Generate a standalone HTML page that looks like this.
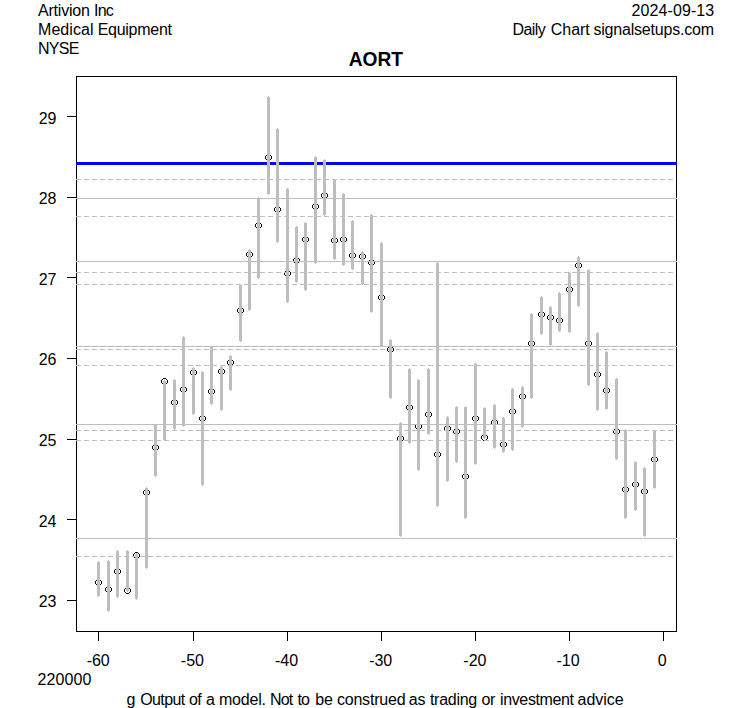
<!DOCTYPE html>
<html><head><meta charset="utf-8"><title>AORT</title>
<style>html,body{margin:0;padding:0;background:#fff}svg{display:block}text{font-family:"Liberation Sans",sans-serif;font-size:16px;fill:#000}</style>
</head><body>
<svg width="753" height="708" viewBox="0 0 753 708">
<rect width="753" height="708" fill="#fff"/>
<g fill="#000" shape-rendering="crispEdges">
<path d="M97 579h3v1h-3z m-1 1h1v1h-1z m4 0h1v1h-1z m-5 1h1v3h-1z m6 0h1v3h-1z m-5 3h1v1h-1z m4 0h1v1h-1z m-3 1h3v1h-3z"/>
<path d="M107 586h3v1h-3z m-1 1h1v1h-1z m4 0h1v1h-1z m-5 1h1v3h-1z m6 0h1v3h-1z m-5 3h1v1h-1z m4 0h1v1h-1z m-3 1h3v1h-3z"/>
<path d="M116 568h3v1h-3z m-1 1h1v1h-1z m4 0h1v1h-1z m-5 1h1v3h-1z m6 0h1v3h-1z m-5 3h1v1h-1z m4 0h1v1h-1z m-3 1h3v1h-3z"/>
<path d="M126 587h3v1h-3z m-1 1h1v1h-1z m4 0h1v1h-1z m-5 1h1v3h-1z m6 0h1v3h-1z m-5 3h1v1h-1z m4 0h1v1h-1z m-3 1h3v1h-3z"/>
<path d="M135 552h3v1h-3z m-1 1h1v1h-1z m4 0h1v1h-1z m-5 1h1v3h-1z m6 0h1v3h-1z m-5 3h1v1h-1z m4 0h1v1h-1z m-3 1h3v1h-3z"/>
<path d="M145 489h3v1h-3z m-1 1h1v1h-1z m4 0h1v1h-1z m-5 1h1v3h-1z m6 0h1v3h-1z m-5 3h1v1h-1z m4 0h1v1h-1z m-3 1h3v1h-3z"/>
<path d="M154 444h3v1h-3z m-1 1h1v1h-1z m4 0h1v1h-1z m-5 1h1v3h-1z m6 0h1v3h-1z m-5 3h1v1h-1z m4 0h1v1h-1z m-3 1h3v1h-3z"/>
<path d="M163 378h3v1h-3z m-1 1h1v1h-1z m4 0h1v1h-1z m-5 1h1v3h-1z m6 0h1v3h-1z m-5 3h1v1h-1z m4 0h1v1h-1z m-3 1h3v1h-3z"/>
<path d="M173 399h3v1h-3z m-1 1h1v1h-1z m4 0h1v1h-1z m-5 1h1v3h-1z m6 0h1v3h-1z m-5 3h1v1h-1z m4 0h1v1h-1z m-3 1h3v1h-3z"/>
<path d="M182 386h3v1h-3z m-1 1h1v1h-1z m4 0h1v1h-1z m-5 1h1v3h-1z m6 0h1v3h-1z m-5 3h1v1h-1z m4 0h1v1h-1z m-3 1h3v1h-3z"/>
<path d="M192 369h3v1h-3z m-1 1h1v1h-1z m4 0h1v1h-1z m-5 1h1v3h-1z m6 0h1v3h-1z m-5 3h1v1h-1z m4 0h1v1h-1z m-3 1h3v1h-3z"/>
<path d="M201 415h3v1h-3z m-1 1h1v1h-1z m4 0h1v1h-1z m-5 1h1v3h-1z m6 0h1v3h-1z m-5 3h1v1h-1z m4 0h1v1h-1z m-3 1h3v1h-3z"/>
<path d="M210 388h3v1h-3z m-1 1h1v1h-1z m4 0h1v1h-1z m-5 1h1v3h-1z m6 0h1v3h-1z m-5 3h1v1h-1z m4 0h1v1h-1z m-3 1h3v1h-3z"/>
<path d="M220 368h3v1h-3z m-1 1h1v1h-1z m4 0h1v1h-1z m-5 1h1v3h-1z m6 0h1v3h-1z m-5 3h1v1h-1z m4 0h1v1h-1z m-3 1h3v1h-3z"/>
<path d="M229 359h3v1h-3z m-1 1h1v1h-1z m4 0h1v1h-1z m-5 1h1v3h-1z m6 0h1v3h-1z m-5 3h1v1h-1z m4 0h1v1h-1z m-3 1h3v1h-3z"/>
<path d="M239 307h3v1h-3z m-1 1h1v1h-1z m4 0h1v1h-1z m-5 1h1v3h-1z m6 0h1v3h-1z m-5 3h1v1h-1z m4 0h1v1h-1z m-3 1h3v1h-3z"/>
<path d="M248 251h3v1h-3z m-1 1h1v1h-1z m4 0h1v1h-1z m-5 1h1v3h-1z m6 0h1v3h-1z m-5 3h1v1h-1z m4 0h1v1h-1z m-3 1h3v1h-3z"/>
<path d="M257 222h3v1h-3z m-1 1h1v1h-1z m4 0h1v1h-1z m-5 1h1v3h-1z m6 0h1v3h-1z m-5 3h1v1h-1z m4 0h1v1h-1z m-3 1h3v1h-3z"/>
<path d="M267 154h3v1h-3z m-1 1h1v1h-1z m4 0h1v1h-1z m-5 1h1v3h-1z m6 0h1v3h-1z m-5 3h1v1h-1z m4 0h1v1h-1z m-3 1h3v1h-3z"/>
<path d="M276 206h3v1h-3z m-1 1h1v1h-1z m4 0h1v1h-1z m-5 1h1v3h-1z m6 0h1v3h-1z m-5 3h1v1h-1z m4 0h1v1h-1z m-3 1h3v1h-3z"/>
<path d="M286 270h3v1h-3z m-1 1h1v1h-1z m4 0h1v1h-1z m-5 1h1v3h-1z m6 0h1v3h-1z m-5 3h1v1h-1z m4 0h1v1h-1z m-3 1h3v1h-3z"/>
<path d="M295 257h3v1h-3z m-1 1h1v1h-1z m4 0h1v1h-1z m-5 1h1v3h-1z m6 0h1v3h-1z m-5 3h1v1h-1z m4 0h1v1h-1z m-3 1h3v1h-3z"/>
<path d="M304 236h3v1h-3z m-1 1h1v1h-1z m4 0h1v1h-1z m-5 1h1v3h-1z m6 0h1v3h-1z m-5 3h1v1h-1z m4 0h1v1h-1z m-3 1h3v1h-3z"/>
<path d="M314 203h3v1h-3z m-1 1h1v1h-1z m4 0h1v1h-1z m-5 1h1v3h-1z m6 0h1v3h-1z m-5 3h1v1h-1z m4 0h1v1h-1z m-3 1h3v1h-3z"/>
<path d="M323 192h3v1h-3z m-1 1h1v1h-1z m4 0h1v1h-1z m-5 1h1v3h-1z m6 0h1v3h-1z m-5 3h1v1h-1z m4 0h1v1h-1z m-3 1h3v1h-3z"/>
<path d="M333 237h3v1h-3z m-1 1h1v1h-1z m4 0h1v1h-1z m-5 1h1v3h-1z m6 0h1v3h-1z m-5 3h1v1h-1z m4 0h1v1h-1z m-3 1h3v1h-3z"/>
<path d="M342 236h3v1h-3z m-1 1h1v1h-1z m4 0h1v1h-1z m-5 1h1v3h-1z m6 0h1v3h-1z m-5 3h1v1h-1z m4 0h1v1h-1z m-3 1h3v1h-3z"/>
<path d="M351 252h3v1h-3z m-1 1h1v1h-1z m4 0h1v1h-1z m-5 1h1v3h-1z m6 0h1v3h-1z m-5 3h1v1h-1z m4 0h1v1h-1z m-3 1h3v1h-3z"/>
<path d="M361 253h3v1h-3z m-1 1h1v1h-1z m4 0h1v1h-1z m-5 1h1v3h-1z m6 0h1v3h-1z m-5 3h1v1h-1z m4 0h1v1h-1z m-3 1h3v1h-3z"/>
<path d="M370 259h3v1h-3z m-1 1h1v1h-1z m4 0h1v1h-1z m-5 1h1v3h-1z m6 0h1v3h-1z m-5 3h1v1h-1z m4 0h1v1h-1z m-3 1h3v1h-3z"/>
<path d="M380 294h3v1h-3z m-1 1h1v1h-1z m4 0h1v1h-1z m-5 1h1v3h-1z m6 0h1v3h-1z m-5 3h1v1h-1z m4 0h1v1h-1z m-3 1h3v1h-3z"/>
<path d="M389 346h3v1h-3z m-1 1h1v1h-1z m4 0h1v1h-1z m-5 1h1v3h-1z m6 0h1v3h-1z m-5 3h1v1h-1z m4 0h1v1h-1z m-3 1h3v1h-3z"/>
<path d="M399 435h3v1h-3z m-1 1h1v1h-1z m4 0h1v1h-1z m-5 1h1v3h-1z m6 0h1v3h-1z m-5 3h1v1h-1z m4 0h1v1h-1z m-3 1h3v1h-3z"/>
<path d="M408 404h3v1h-3z m-1 1h1v1h-1z m4 0h1v1h-1z m-5 1h1v3h-1z m6 0h1v3h-1z m-5 3h1v1h-1z m4 0h1v1h-1z m-3 1h3v1h-3z"/>
<path d="M417 423h3v1h-3z m-1 1h1v1h-1z m4 0h1v1h-1z m-5 1h1v3h-1z m6 0h1v3h-1z m-5 3h1v1h-1z m4 0h1v1h-1z m-3 1h3v1h-3z"/>
<path d="M427 411h3v1h-3z m-1 1h1v1h-1z m4 0h1v1h-1z m-5 1h1v3h-1z m6 0h1v3h-1z m-5 3h1v1h-1z m4 0h1v1h-1z m-3 1h3v1h-3z"/>
<path d="M436 451h3v1h-3z m-1 1h1v1h-1z m4 0h1v1h-1z m-5 1h1v3h-1z m6 0h1v3h-1z m-5 3h1v1h-1z m4 0h1v1h-1z m-3 1h3v1h-3z"/>
<path d="M446 425h3v1h-3z m-1 1h1v1h-1z m4 0h1v1h-1z m-5 1h1v3h-1z m6 0h1v3h-1z m-5 3h1v1h-1z m4 0h1v1h-1z m-3 1h3v1h-3z"/>
<path d="M455 428h3v1h-3z m-1 1h1v1h-1z m4 0h1v1h-1z m-5 1h1v3h-1z m6 0h1v3h-1z m-5 3h1v1h-1z m4 0h1v1h-1z m-3 1h3v1h-3z"/>
<path d="M464 473h3v1h-3z m-1 1h1v1h-1z m4 0h1v1h-1z m-5 1h1v3h-1z m6 0h1v3h-1z m-5 3h1v1h-1z m4 0h1v1h-1z m-3 1h3v1h-3z"/>
<path d="M474 415h3v1h-3z m-1 1h1v1h-1z m4 0h1v1h-1z m-5 1h1v3h-1z m6 0h1v3h-1z m-5 3h1v1h-1z m4 0h1v1h-1z m-3 1h3v1h-3z"/>
<path d="M483 434h3v1h-3z m-1 1h1v1h-1z m4 0h1v1h-1z m-5 1h1v3h-1z m6 0h1v3h-1z m-5 3h1v1h-1z m4 0h1v1h-1z m-3 1h3v1h-3z"/>
<path d="M493 419h3v1h-3z m-1 1h1v1h-1z m4 0h1v1h-1z m-5 1h1v3h-1z m6 0h1v3h-1z m-5 3h1v1h-1z m4 0h1v1h-1z m-3 1h3v1h-3z"/>
<path d="M502 441h3v1h-3z m-1 1h1v1h-1z m4 0h1v1h-1z m-5 1h1v3h-1z m6 0h1v3h-1z m-5 3h1v1h-1z m4 0h1v1h-1z m-3 1h3v1h-3z"/>
<path d="M511 408h3v1h-3z m-1 1h1v1h-1z m4 0h1v1h-1z m-5 1h1v3h-1z m6 0h1v3h-1z m-5 3h1v1h-1z m4 0h1v1h-1z m-3 1h3v1h-3z"/>
<path d="M521 393h3v1h-3z m-1 1h1v1h-1z m4 0h1v1h-1z m-5 1h1v3h-1z m6 0h1v3h-1z m-5 3h1v1h-1z m4 0h1v1h-1z m-3 1h3v1h-3z"/>
<path d="M530 340h3v1h-3z m-1 1h1v1h-1z m4 0h1v1h-1z m-5 1h1v3h-1z m6 0h1v3h-1z m-5 3h1v1h-1z m4 0h1v1h-1z m-3 1h3v1h-3z"/>
<path d="M540 311h3v1h-3z m-1 1h1v1h-1z m4 0h1v1h-1z m-5 1h1v3h-1z m6 0h1v3h-1z m-5 3h1v1h-1z m4 0h1v1h-1z m-3 1h3v1h-3z"/>
<path d="M549 314h3v1h-3z m-1 1h1v1h-1z m4 0h1v1h-1z m-5 1h1v3h-1z m6 0h1v3h-1z m-5 3h1v1h-1z m4 0h1v1h-1z m-3 1h3v1h-3z"/>
<path d="M558 317h3v1h-3z m-1 1h1v1h-1z m4 0h1v1h-1z m-5 1h1v3h-1z m6 0h1v3h-1z m-5 3h1v1h-1z m4 0h1v1h-1z m-3 1h3v1h-3z"/>
<path d="M568 286h3v1h-3z m-1 1h1v1h-1z m4 0h1v1h-1z m-5 1h1v3h-1z m6 0h1v3h-1z m-5 3h1v1h-1z m4 0h1v1h-1z m-3 1h3v1h-3z"/>
<path d="M577 262h3v1h-3z m-1 1h1v1h-1z m4 0h1v1h-1z m-5 1h1v3h-1z m6 0h1v3h-1z m-5 3h1v1h-1z m4 0h1v1h-1z m-3 1h3v1h-3z"/>
<path d="M587 340h3v1h-3z m-1 1h1v1h-1z m4 0h1v1h-1z m-5 1h1v3h-1z m6 0h1v3h-1z m-5 3h1v1h-1z m4 0h1v1h-1z m-3 1h3v1h-3z"/>
<path d="M596 371h3v1h-3z m-1 1h1v1h-1z m4 0h1v1h-1z m-5 1h1v3h-1z m6 0h1v3h-1z m-5 3h1v1h-1z m4 0h1v1h-1z m-3 1h3v1h-3z"/>
<path d="M605 387h3v1h-3z m-1 1h1v1h-1z m4 0h1v1h-1z m-5 1h1v3h-1z m6 0h1v3h-1z m-5 3h1v1h-1z m4 0h1v1h-1z m-3 1h3v1h-3z"/>
<path d="M615 428h3v1h-3z m-1 1h1v1h-1z m4 0h1v1h-1z m-5 1h1v3h-1z m6 0h1v3h-1z m-5 3h1v1h-1z m4 0h1v1h-1z m-3 1h3v1h-3z"/>
<path d="M624 486h3v1h-3z m-1 1h1v1h-1z m4 0h1v1h-1z m-5 1h1v3h-1z m6 0h1v3h-1z m-5 3h1v1h-1z m4 0h1v1h-1z m-3 1h3v1h-3z"/>
<path d="M634 481h3v1h-3z m-1 1h1v1h-1z m4 0h1v1h-1z m-5 1h1v3h-1z m6 0h1v3h-1z m-5 3h1v1h-1z m4 0h1v1h-1z m-3 1h3v1h-3z"/>
<path d="M643 488h3v1h-3z m-1 1h1v1h-1z m4 0h1v1h-1z m-5 1h1v3h-1z m6 0h1v3h-1z m-5 3h1v1h-1z m4 0h1v1h-1z m-3 1h3v1h-3z"/>
<path d="M653 456h3v1h-3z m-1 1h1v1h-1z m4 0h1v1h-1z m-5 1h1v3h-1z m6 0h1v3h-1z m-5 3h1v1h-1z m4 0h1v1h-1z m-3 1h3v1h-3z"/>
</g>
<g fill="none" stroke="#000" stroke-width="1" shape-rendering="crispEdges">
<rect x="76.5" y="76.5" width="600" height="555"/>
<line x1="67" y1="116.5" x2="76" y2="116.5"/>
<line x1="67" y1="197.5" x2="76" y2="197.5"/>
<line x1="67" y1="277.5" x2="76" y2="277.5"/>
<line x1="67" y1="358.5" x2="76" y2="358.5"/>
<line x1="67" y1="439.5" x2="76" y2="439.5"/>
<line x1="67" y1="519.5" x2="76" y2="519.5"/>
<line x1="67" y1="600.5" x2="76" y2="600.5"/>
<line x1="98.5" y1="631" x2="98.5" y2="641"/>
<line x1="193.5" y1="631" x2="193.5" y2="641"/>
<line x1="287.5" y1="631" x2="287.5" y2="641"/>
<line x1="381.5" y1="631" x2="381.5" y2="641"/>
<line x1="475.5" y1="631" x2="475.5" y2="641"/>
<line x1="569.5" y1="631" x2="569.5" y2="641"/>
<line x1="663.5" y1="631" x2="663.5" y2="641"/>
</g>
<g fill="#bebebe">
<rect x="76" y="198" width="601" height="1"/>
<rect x="76" y="261" width="601" height="1"/>
<rect x="76" y="346" width="601" height="1"/>
<rect x="76" y="424" width="601" height="1"/>
<rect x="76" y="538" width="601" height="1"/>
</g>
<g stroke="#bebebe" stroke-width="1" stroke-dasharray="5 3" shape-rendering="crispEdges">
<line x1="76" y1="179.5" x2="676" y2="179.5"/>
<line x1="76" y1="216.5" x2="676" y2="216.5"/>
<line x1="76" y1="272.5" x2="676" y2="272.5"/>
<line x1="76" y1="284.5" x2="676" y2="284.5"/>
<line x1="76" y1="349.5" x2="676" y2="349.5"/>
<line x1="76" y1="365.5" x2="676" y2="365.5"/>
<line x1="76" y1="430.5" x2="676" y2="430.5"/>
<line x1="76" y1="440.5" x2="676" y2="440.5"/>
<line x1="76" y1="556.5" x2="676" y2="556.5"/>
</g>
<rect x="76" y="162" width="601" height="3" fill="#0000ff"/>
<g fill="#bebebe" shape-rendering="crispEdges">
<path d="M98 561h1v1h1v34h-1v1h-1v-1h-1v-34h1z"/>
<path d="M108 560h1v1h1v50h-1v1h-1v-1h-1v-50h1z"/>
<path d="M117 550h1v1h1v46h-1v1h-1v-1h-1v-46h1z"/>
<path d="M127 550h1v1h1v40h-1v1h-1v-1h-1v-40h1z"/>
<path d="M136 553h1v1h1v45h-1v1h-1v-1h-1v-45h1z"/>
<path d="M146 487h1v1h1v80h-1v1h-1v-1h-1v-80h1z"/>
<path d="M155 424h1v1h1v51h-1v1h-1v-1h-1v-51h1z"/>
<path d="M164 380h1v1h1v59h-1v1h-1v-1h-1v-59h1z"/>
<path d="M174 379h1v1h1v49h-1v1h-1v-1h-1v-49h1z"/>
<path d="M183 336h1v1h1v89h-1v1h-1v-1h-1v-89h1z"/>
<path d="M193 367h1v1h1v46h-1v1h-1v-1h-1v-46h1z"/>
<path d="M202 371h1v1h1v113h-1v1h-1v-1h-1v-113h1z"/>
<path d="M211 346h1v1h1v57h-1v1h-1v-1h-1v-57h1z"/>
<path d="M221 366h1v1h1v43h-1v1h-1v-1h-1v-43h1z"/>
<path d="M230 355h1v1h1v34h-1v1h-1v-1h-1v-34h1z"/>
<path d="M240 284h1v1h1v56h-1v1h-1v-1h-1v-56h1z"/>
<path d="M249 249h1v1h1v60h-1v1h-1v-1h-1v-60h1z"/>
<path d="M258 197h1v1h1v80h-1v1h-1v-1h-1v-80h1z"/>
<path d="M268 96h1v1h1v97h-1v1h-1v-1h-1v-97h1z"/>
<path d="M277 128h1v1h1v113h-1v1h-1v-1h-1v-113h1z"/>
<path d="M287 188h1v1h1v113h-1v1h-1v-1h-1v-113h1z"/>
<path d="M296 226h1v1h1v55h-1v1h-1v-1h-1v-55h1z"/>
<path d="M305 222h1v1h1v67h-1v1h-1v-1h-1v-67h1z"/>
<path d="M315 156h1v1h1v106h-1v1h-1v-1h-1v-106h1z"/>
<path d="M324 159h1v1h1v55h-1v1h-1v-1h-1v-55h1z"/>
<path d="M334 179h1v1h1v79h-1v1h-1v-1h-1v-79h1z"/>
<path d="M343 193h1v1h1v71h-1v1h-1v-1h-1v-71h1z"/>
<path d="M352 220h1v1h1v48h-1v1h-1v-1h-1v-48h1z"/>
<path d="M362 251h1v1h1v32h-1v1h-1v-1h-1v-32h1z"/>
<path d="M371 214h1v1h1v97h-1v1h-1v-1h-1v-97h1z"/>
<path d="M381 242h1v1h1v103h-1v1h-1v-1h-1v-103h1z"/>
<path d="M390 339h1v1h1v58h-1v1h-1v-1h-1v-58h1z"/>
<path d="M400 422h1v1h1v113h-1v1h-1v-1h-1v-113h1z"/>
<path d="M409 368h1v1h1v74h-1v1h-1v-1h-1v-74h1z"/>
<path d="M418 379h1v1h1v90h-1v1h-1v-1h-1v-90h1z"/>
<path d="M428 368h1v1h1v65h-1v1h-1v-1h-1v-65h1z"/>
<path d="M437 262h1v1h1v243h-1v1h-1v-1h-1v-243h1z"/>
<path d="M447 416h1v1h1v64h-1v1h-1v-1h-1v-64h1z"/>
<path d="M456 406h1v1h1v55h-1v1h-1v-1h-1v-55h1z"/>
<path d="M465 406h1v1h1v111h-1v1h-1v-1h-1v-111h1z"/>
<path d="M475 363h1v1h1v100h-1v1h-1v-1h-1v-100h1z"/>
<path d="M484 407h1v1h1v30h-1v1h-1v-1h-1v-30h1z"/>
<path d="M494 404h1v1h1v43h-1v1h-1v-1h-1v-43h1z"/>
<path d="M503 417h1v1h1v34h-1v1h-1v-1h-1v-34h1z"/>
<path d="M512 388h1v1h1v61h-1v1h-1v-1h-1v-61h1z"/>
<path d="M522 386h1v1h1v40h-1v1h-1v-1h-1v-40h1z"/>
<path d="M531 313h1v1h1v84h-1v1h-1v-1h-1v-84h1z"/>
<path d="M541 296h1v1h1v37h-1v1h-1v-1h-1v-37h1z"/>
<path d="M550 306h1v1h1v38h-1v1h-1v-1h-1v-38h1z"/>
<path d="M559 292h1v1h1v38h-1v1h-1v-1h-1v-38h1z"/>
<path d="M569 272h1v1h1v59h-1v1h-1v-1h-1v-59h1z"/>
<path d="M578 256h1v1h1v49h-1v1h-1v-1h-1v-49h1z"/>
<path d="M588 269h1v1h1v115h-1v1h-1v-1h-1v-115h1z"/>
<path d="M597 332h1v1h1v77h-1v1h-1v-1h-1v-77h1z"/>
<path d="M606 351h1v1h1v57h-1v1h-1v-1h-1v-57h1z"/>
<path d="M616 378h1v1h1v80h-1v1h-1v-1h-1v-80h1z"/>
<path d="M625 429h1v1h1v88h-1v1h-1v-1h-1v-88h1z"/>
<path d="M635 461h1v1h1v48h-1v1h-1v-1h-1v-48h1z"/>
<path d="M644 467h1v1h1v68h-1v1h-1v-1h-1v-68h1z"/>
<path d="M654 430h1v1h1v57h-1v1h-1v-1h-1v-57h1z"/>
</g>
<g text-anchor="end">
<text x="56.5" y="124">29</text>
<text x="56.5" y="204">28</text>
<text x="56.5" y="285">27</text>
<text x="56.5" y="365">26</text>
<text x="56.5" y="446">25</text>
<text x="56.5" y="527">24</text>
<text x="56.5" y="607">23</text>
</g>
<g text-anchor="middle">
<text x="98.2" y="666">-60</text>
<text x="192.4" y="666">-50</text>
<text x="286.6" y="666">-40</text>
<text x="380.7" y="666">-30</text>
<text x="474.9" y="666">-20</text>
<text x="568.1" y="666">-10</text>
<text x="662.2" y="666">0</text>
<text transform="translate(375.8,66) scale(1,1.06)" x="0" y="0" style="font-size:19.2px;font-weight:bold">AORT</text>
</g>
<text y="704.5"><tspan x="126.6">g</tspan> <tspan x="140.3" style="letter-spacing:-0.640px">Output</tspan> <tspan x="189.0" style="letter-spacing:-0.600px">of</tspan> <tspan x="206.0">a</tspan> <tspan x="219.0" style="letter-spacing:-0.220px">model.</tspan> <tspan x="270.1" style="letter-spacing:-0.900px">Not</tspan> <tspan x="297.4" style="letter-spacing:-0.800px">to</tspan> <tspan x="315.2">be</tspan> <tspan x="336.9" style="letter-spacing:-0.188px">construed</tspan> <tspan x="408.7" style="letter-spacing:-0.200px">as</tspan> <tspan x="429.9" style="letter-spacing:-0.267px">trading</tspan> <tspan x="481.6" style="letter-spacing:-0.600px">or</tspan> <tspan x="500.0" style="letter-spacing:-0.367px">investment</tspan> <tspan x="577.6" style="letter-spacing:-0.060px">advice</tspan></text>
<text y="16.0"><tspan x="38.0" style="letter-spacing:-0.214px">Artivion</tspan> <tspan x="94.1" style="letter-spacing:-0.900px">Inc</tspan></text>
<text y="16.0"><tspan x="631.6" style="letter-spacing:0.089px">2024-09-13</tspan></text>
<text y="35.0"><tspan x="38.0" style="letter-spacing:0.067px">Medical</tspan> <tspan x="97.7" style="letter-spacing:-0.275px">Equipment</tspan></text>
<text y="35.0"><tspan x="512.5" style="letter-spacing:-0.550px">Daily</tspan> <tspan x="550.7">Chart</tspan> <tspan x="593.4" style="letter-spacing:-0.200px">signalsetups.com</tspan></text>
<text y="54.0"><tspan x="38.0" style="letter-spacing:-0.733px">NYSE</tspan></text>
<text y="685.0"><tspan x="37.6" style="letter-spacing:0.060px">220000</tspan></text>
</svg></body></html>
